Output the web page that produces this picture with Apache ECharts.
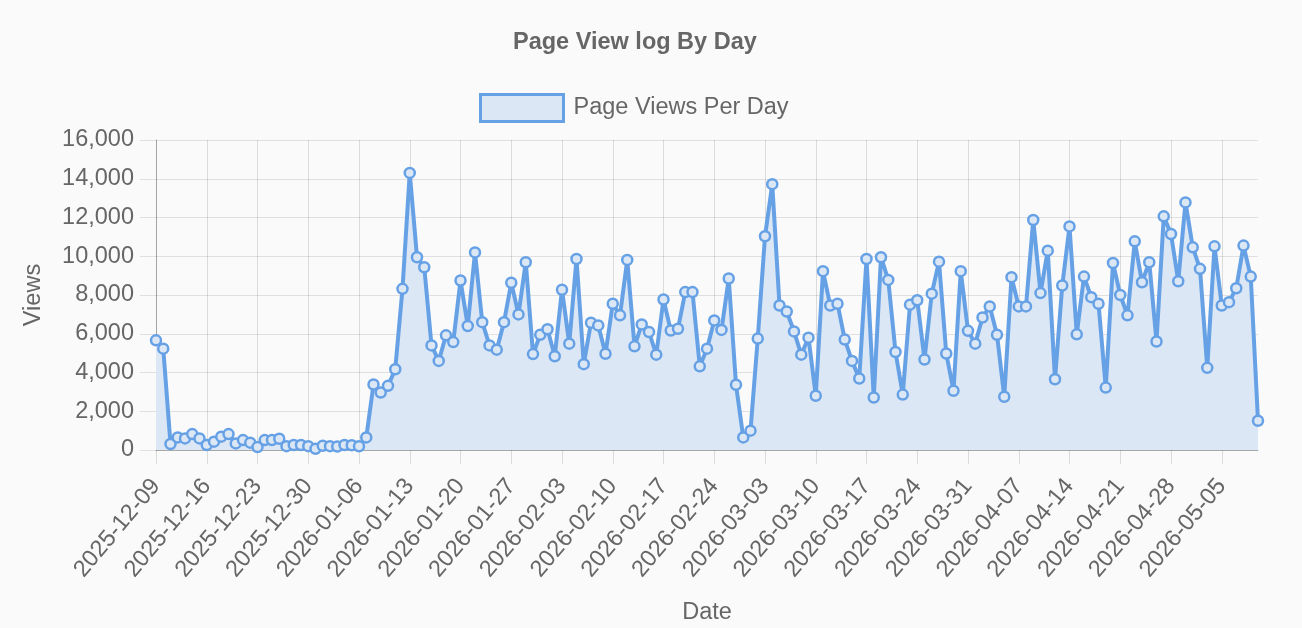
<!DOCTYPE html>
<html>
<head>
<meta charset="utf-8">
<title>Page View log By Day</title>
<script src="https://cdn.jsdelivr.net/npm/echarts@6/dist/echarts.min.js"></script>
<style>
  html, body { margin: 0; padding: 0; background: #fafafa; }
  #chart { width: 1302px; height: 628px; }
</style>
</head>
<body>
<div id="chart"></div>
<script>
// first day of the log, one point per day
var startDate = '2025-12-09';

// views per day, split by month
var viewsDec = [5660, 5230, 310, 650, 600, 820, 600, 260, 430, 690, 820, 340, 510, 380, 150, 510, 510, 580, 200, 260, 260, 200, 60];
var viewsJan = [220, 200, 180, 260, 250, 190, 650, 3380, 2970, 3310, 4170, 8320, 14300, 9950, 9430, 5400, 4600, 5920, 5570, 8750, 6400, 10200, 6600, 5400, 5180, 6600, 8630, 7000, 9690, 4950, 5950];
var viewsFeb = [6230, 4840, 8270, 5490, 9860, 4430, 6570, 6430, 4970, 7550, 6950, 9810, 5350, 6480, 6090, 4920, 7770, 6170, 6260, 8150, 8150, 4320, 5230, 6690, 6200, 8850, 3370, 650];
var viewsMar = [1000, 5750, 11030, 13720, 7460, 7150, 6120, 4920, 5800, 2800, 9230, 7460, 7550, 5700, 4600, 3690, 9860, 2710, 9950, 8780, 5060, 2860, 7500, 7730, 4670, 8070, 9720, 4980, 3060, 9230, 6150];
var viewsApr = [5490, 6840, 7410, 5950, 2750, 8920, 7410, 7410, 11870, 8100, 10290, 3650, 8490, 11540, 5970, 8950, 7890, 7550, 3220, 9650, 8000, 6950, 10770, 8660, 9690, 5600, 12060, 11150, 8710, 12780];
var viewsMay = [10460, 9350, 4240, 10510, 7460, 7630, 8350, 10550, 8950, 1510];

var views = [].concat(viewsDec, viewsJan, viewsFeb, viewsMar, viewsApr, viewsMay);

// date labels
var dates = [];
var d = new Date(startDate + 'T00:00:00Z');
for (var i = 0; i < views.length; i++) {
    dates.push(d.toISOString().slice(0, 10));
    d.setUTCDate(d.getUTCDate() + 1);
}

var blue = '#66a1e6';
var fill = '#dce7f5';
var grey = '#666';
var font = '"Liberation Sans", Arial, Helvetica, sans-serif';
var size = 23.5;
var gridColor = 'rgba(0,0,0,0.1)';

var myChart = echarts.init(document.getElementById('chart'));
myChart.setOption({
    backgroundColor: '#fafafa',
    animation: false,
    textStyle: { fontFamily: font, color: grey },
    title: {
        text: 'Page View log By Day',
        left: 508,
        top: 26,
        textStyle: { fontSize: size, fontWeight: 'bold', color: grey, fontFamily: font }
    },
    legend: {
        top: 88,
        left: 474,
        icon: 'rect',
        itemWidth: 83,
        itemHeight: 27,
        textStyle: { fontSize: size, color: grey, fontFamily: font, padding: [0, 0, 0, 5] },
        itemStyle: { color: fill, borderColor: blue, borderWidth: 3 }
    },
    grid: { left: 156, right: 44, top: 140, bottom: 178 },
    xAxis: {
        type: 'category',
        data: dates,
        boundaryGap: false,
        name: 'Date',
        nameLocation: 'middle',
        nameGap: 151,
        nameTextStyle: { fontSize: size, color: grey },
        axisLine: { lineStyle: { color: 'rgba(0,0,0,0.25)' } },
        axisTick: { interval: 6, length: 14, lineStyle: { color: 'rgba(0,0,0,0.12)' } },
        axisLabel: { interval: 6, rotate: 50, fontSize: size, color: grey, margin: 32 },
        splitLine: { show: true, interval: 6, lineStyle: { color: 'rgba(0,0,0,0.12)' } }
    },
    yAxis: {
        type: 'value',
        min: 0,
        max: 16000,
        interval: 2000,
        name: 'Views',
        nameLocation: 'middle',
        nameGap: 110,
        nameTextStyle: { fontSize: size, color: grey },
        axisLine: { show: true, lineStyle: { color: 'rgba(0,0,0,0.25)' } },
        axisTick: { show: true, length: 16, lineStyle: { color: gridColor } },
        axisLabel: {
            fontSize: size,
            color: grey,
            margin: 22,
            formatter: function (v) { return v.toLocaleString('en-US'); }
        },
        splitLine: { lineStyle: { color: gridColor } }
    },
    series: [
        {
            name: 'Page Views Per Day',
            type: 'line',
            data: views,
            symbol: 'circle',
            symbolSize: 10,
            showAllSymbol: true,
            lineStyle: { color: blue, width: 4 },
            itemStyle: { color: fill, borderColor: blue, borderWidth: 2.5 },
            areaStyle: { color: fill, opacity: 1 }
        }
    ]
});
</script>
</body>
</html>
